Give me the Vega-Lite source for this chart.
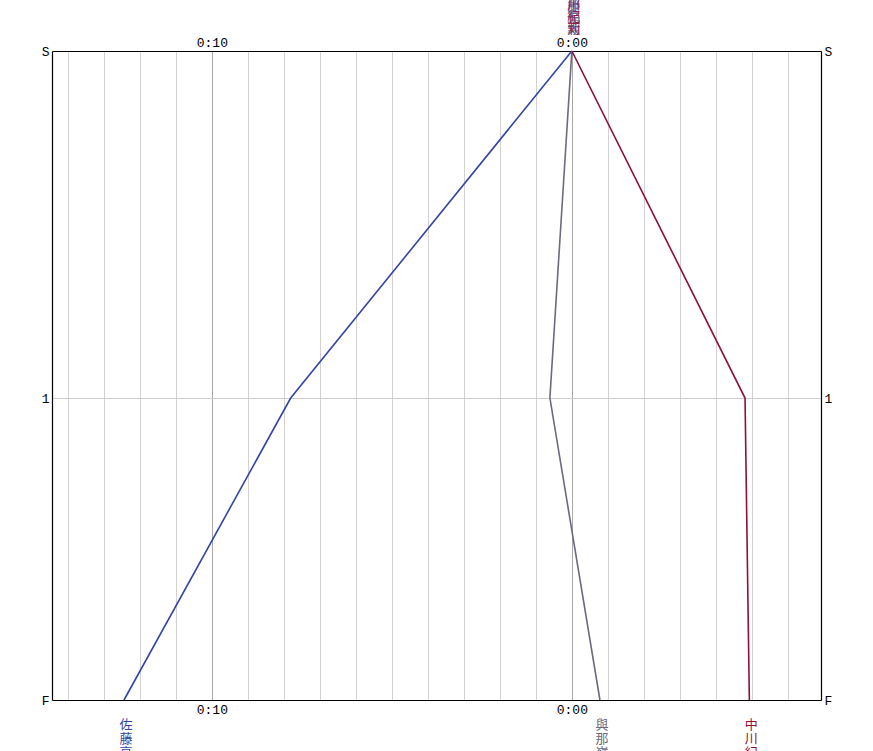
{
  "$schema": "https://vega.github.io/schema/vega-lite/v6.json",
  "width": 769,
  "height": 649,
  "autosize": {"type": "none"},
  "padding": {"left": 52, "top": 51, "right": 52, "bottom": 51},
  "background": "white",
  "config": {"view": {"stroke": null}, "font": "Liberation Mono"},
  "data": {
    "values": [
      {"name": "佐藤亮太", "point": "S", "pos": 0, "gap": 0},
      {"name": "佐藤亮太", "point": "1", "pos": 0.5347, "gap": 7.81},
      {"name": "佐藤亮太", "point": "F", "pos": 1, "gap": 12.44},
      {"name": "與那嶺翔", "point": "S", "pos": 0, "gap": 0},
      {"name": "與那嶺翔", "point": "1", "pos": 0.5347, "gap": 0.61},
      {"name": "與那嶺翔", "point": "F", "pos": 1, "gap": -0.78},
      {"name": "中川紀莉", "point": "S", "pos": 0, "gap": 0},
      {"name": "中川紀莉", "point": "1", "pos": 0.5347, "gap": -4.81},
      {"name": "中川紀莉", "point": "F", "pos": 1, "gap": -4.93}
    ]
  },
  "encoding": {
    "x": {
      "field": "gap", "type": "quantitative",
      "scale": {"domain": [-6.92, 14.44], "reverse": true, "nice": false, "zero": false},
      "axis": null
    },
    "y": {
      "field": "pos", "type": "quantitative",
      "scale": {"domain": [0, 1], "reverse": true, "nice": false},
      "axis": null
    },
    "color": {
      "field": "name", "type": "nominal",
      "scale": {"domain": ["佐藤亮太", "與那嶺翔", "中川紀莉"], "range": ["#3344a6", "#6a6a80", "#8f0f3c"]},
      "legend": null
    }
  },
  "layer": [
    {
      "mark": {"type": "line", "strokeWidth": 1.6},
      "encoding": {
        "order": {"field": "pos", "type": "quantitative"},
        "x": {
          "field": "gap", "type": "quantitative",
          "axis": {
            "orient": "bottom", "values": [-6, -5, -4, -3, -2, -1, 0, 1, 2, 3, 4, 5, 6, 7, 8, 9, 10, 11, 12, 13, 14],
            "labelExpr": "datum.value == 0 ? '0:00' : (datum.value == 10 ? '0:10' : '')",
            "ticks": false, "labelPadding": 3, "labelFontSize": 13, "labelColor": "#000",
            "labelFont": "Liberation Mono",
            "domainColor": "#000", "domainWidth": 1.2,
            "grid": true, "gridWidth": 1,
            "gridColor": {"condition": {"test": "datum.value == 0 || datum.value == 10", "value": "#a8a8a8"}, "value": "#d2d2d2"},
            "title": null
          }
        },
        "y": {
          "field": "pos", "type": "quantitative",
          "axis": {
            "orient": "left", "values": [0, 0.5347, 1],
            "labelExpr": "datum.value == 0 ? 'S' : (datum.value == 1 ? 'F' : '1')",
            "ticks": false, "labelPadding": 3, "labelFontSize": 13, "labelColor": "#000",
            "labelFont": "Liberation Mono",
            "domainColor": "#000", "domainWidth": 1.2,
            "grid": true, "gridColor": "#cccccc", "gridWidth": 1,
            "title": null
          }
        }
      }
    },
    {
      "mark": {"type": "line", "strokeWidth": 0, "opacity": 0},
      "encoding": {
        "x": {
          "field": "gap", "type": "quantitative",
          "axis": {
            "orient": "top", "values": [0, 10],
            "labelExpr": "datum.value == 0 ? '0:00' : '0:10'",
            "ticks": false, "labelPadding": 2, "labelFontSize": 13, "labelColor": "#000",
            "labelFont": "Liberation Mono",
            "domainColor": "#000", "domainWidth": 1.2, "grid": false, "title": null
          }
        },
        "y": {
          "field": "pos", "type": "quantitative",
          "axis": {
            "orient": "right", "values": [0, 0.5347, 1],
            "labelExpr": "datum.value == 0 ? 'S' : (datum.value == 1 ? 'F' : '1')",
            "ticks": false, "labelPadding": 3, "labelFontSize": 13, "labelColor": "#000",
            "labelFont": "Liberation Mono",
            "domainColor": "#000", "domainWidth": 1.2, "grid": false, "title": null
          }
        }
      }
    },
    {
      "transform": [
        {"filter": "datum.point == 'S'"},
        {"calculate": "split(datum.name, '')", "as": "chars"}
      ],
      "mark": {"type": "text", "baseline": "top", "align": "center", "dy": -64, "dx": 2, "fontSize": 13, "lineHeight": 12, "font": "Noto Sans CJK JP", "opacity": 0.85},
      "encoding": {"text": {"field": "chars"}}
    },
    {
      "transform": [
        {"filter": "datum.point == 'F'"},
        {"calculate": "split(datum.name, '')", "as": "chars"}
      ],
      "mark": {"type": "text", "baseline": "top", "align": "center", "dy": 19, "dx": 2, "fontSize": 13, "lineHeight": 14, "font": "Noto Sans CJK JP"},
      "encoding": {"text": {"field": "chars"}}
    }
  ],
  "resolve": {"axis": {"x": "independent", "y": "independent"}}
}
